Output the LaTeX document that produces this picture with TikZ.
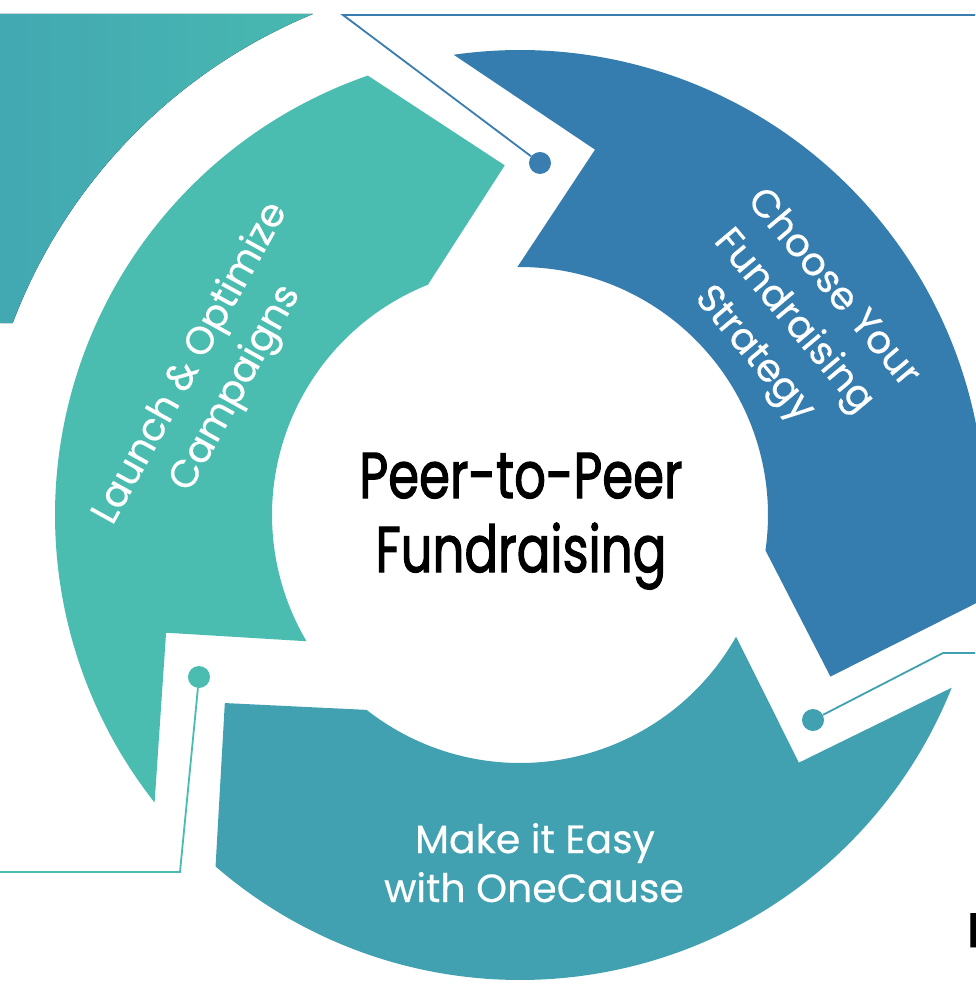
\documentclass[tikz,border=0pt]{standalone}
\usepackage{fontspec}
\usepackage{graphicx}
\newfontfamily\labfont[FakeBold=0.4]{Poppins}
\newfontfamily\ctrfont[FakeBold=2]{Poppins}
\definecolor{cgreen}{HTML}{4BBDB0}
\definecolor{cblue}{HTML}{357DAF}
\definecolor{cteal}{HTML}{41A1B1}
\definecolor{cshadeL}{HTML}{42A8B2}
\definecolor{cshadeR}{HTML}{48B8B0}
\definecolor{clineblue}{HTML}{3A7EB1}
\begin{document}
\begin{tikzpicture}[x=0.025cm,y=0.025cm,
  dot/.style={circle, inner sep=0pt, minimum size=0.55cm, fill=#1},
  conn/.style={draw=#1, line width=1.3pt},
  lab/.style={text=white, font=\labfont\fontsize{27.5}{36.5}\selectfont, align=center, inner sep=0pt},
  labline/.style={text=white, font=\labfont\fontsize{28}{35.4}\selectfont, inner sep=0pt, anchor=base},
  ctr/.style={font=\ctrfont\fontsize{46}{52}\selectfont, xscale=0.77, transform shape, anchor=base, inner sep=0pt}]
\useasboundingbox (-520,-471) rectangle (455,515);

% partial shape at the top left
\fill[left color=cshadeL, right color=cshadeR] (-520,501) -- (-207,501)
  arc[start angle=112.4, end angle=159.25, radius=542] -- (-520,192) -- cycle;

% ring segments
\fill[cblue] (98.2:465) arc[start angle=98.2, end angle=-10.9, radius=465]
  -- (-27.5:350) -- (-8.2:248) arc[start angle=-8.2, end angle=90.6, radius=248]
  -- (78.4:373) -- cycle;
\fill[cteal] (-21.8:465) arc[start angle=-21.8, end angle=-130.9, radius=465]
  -- (-147.5:350) -- (-128.2:248) arc[start angle=-128.2, end angle=-29.4, radius=248]
  -- (-41.6:373) -- cycle;
\fill[cgreen] (218.2:465) arc[start angle=218.2, end angle=109.1, radius=465]
  -- (92.5:350) -- (111.8:248) arc[start angle=111.8, end angle=210.6, radius=248]
  -- (198.4:373) -- cycle;

% connectors
\node[dot=clineblue] (d1) at (20,352) {};
\coordinate (b1) at (-177,500);
\coordinate (e1) at (455,500);
\draw[conn=clineblue] (e1) -- (b1) -- (d1);

\node[dot=cgreen] (d2) at (-321,-162) {};
\coordinate (b2) at (-340,-357);
\coordinate (e2) at (-520,-357);
\draw[conn=cgreen] (e2) -- (b2) -- (d2);

\node[dot=cteal] (d3) at (293,-205) {};
\coordinate (b3) at (423,-138);
\coordinate (e3) at (455,-138);
\draw[conn=cteal] (e3) -- (b3) -- (d3);

% labels
\node[lab, rotate=61] (launch) at (155.6:336) {Launch \& Optimize\\Campaigns};
\node[lab, rotate=-50] (choose) at (35.3:334) {Choose Your\\Fundraising\\Strategy};
\node[labline] (make1) at (15,-338) {Make it Easy};
\node[labline] (make2) at (14,-387) {with OneCause};

\node[ctr] (p1) at (1,17) {Peer-to-Peer};
\node[ctr] (p2) at (1,-57) {Fundraising};

\node[font=\ctrfont\fontsize{34}{40}\selectfont, anchor=base west, inner sep=0pt] (h) at (447,-432) {H};
\end{tikzpicture}
\end{document}
